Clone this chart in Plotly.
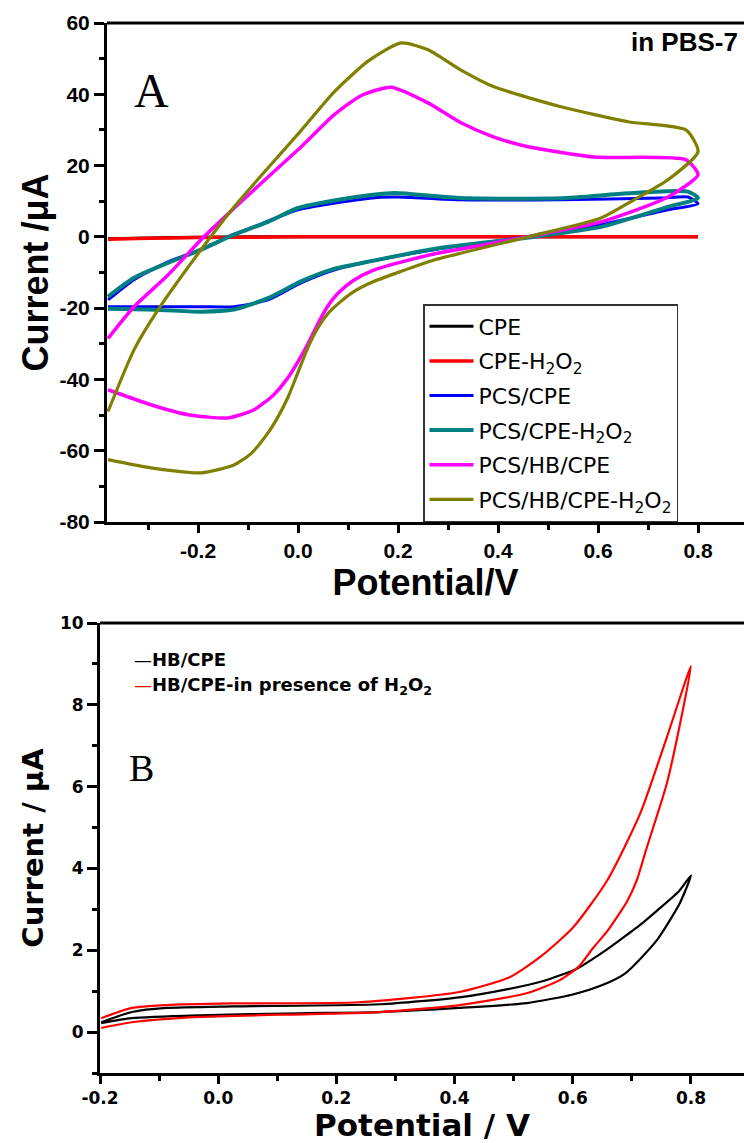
import plotly.graph_objects as go

# ---------------- Panel A data: potential (V) / current (uA); anodic sweep then cathodic sweep
A_NAMES = ["CPE", "CPE-H<sub>2</sub>O<sub>2</sub>", "PCS/CPE", "PCS/CPE-H<sub>2</sub>O<sub>2</sub>",
           "PCS/HB/CPE", "PCS/HB/CPE-H<sub>2</sub>O<sub>2</sub>"]

CPE_E = [-0.38, -0.30, -0.20, -0.10, 0.00, 0.20, 0.40, 0.60, 0.80]
CPE_I = [-0.5, -0.3, -0.1, 0.0, 0.0, 0.0, 0.0, 0.0, 0.0]

CPE_H2O2_E = [-0.38, -0.30, -0.20, -0.10, 0.00, 0.20, 0.40, 0.60, 0.80]
CPE_H2O2_I = [-0.7, -0.4, -0.2, -0.1, 0.0, 0.0, 0.0, 0.0, 0.0]

PCS_CPE_E = [-0.38, -0.328, -0.26, -0.194, -0.14, -0.094, 0.0, 0.072, 0.166, 0.20, 0.326, 0.526, 0.726, 0.78, 0.80,
             0.74, 0.606, 0.46, 0.272, 0.14, 0.072, 0.006, -0.06, -0.128, -0.194, -0.30, -0.38]
PCS_CPE_I = [-17.7, -12.0, -7.0, -3.6, 0.0, 2.5, 7.6, 9.4, 11.1, 11.2, 10.4, 10.4, 10.9, 11.2, 9.3,
             7.6, 3.4, 0.0, -3.6, -7.0, -9.3, -12.9, -17.7, -19.6, -19.6, -19.6, -19.6]

PCS_CPE_H2O2_E = [-0.38, -0.328, -0.26, -0.194, -0.128, -0.06, 0.0, 0.072, 0.15, 0.193, 0.326, 0.526, 0.66, 0.78, 0.80,
                  0.74, 0.606, 0.46, 0.272, 0.14, 0.072, 0.006, -0.06, -0.128, -0.194, -0.30, -0.38]
PCS_CPE_H2O2_I = [-16.8, -11.5, -7.3, -3.6, 0.6, 4.2, 8.1, 10.2, 11.8, 12.3, 10.9, 10.8, 12.2, 12.7, 10.9,
                  8.4, 2.8, -0.2, -3.4, -7.0, -9.0, -12.5, -17.2, -20.4, -21.0, -20.4, -20.2]

PCS_HB_CPE_E = [-0.38, -0.328, -0.26, -0.194, -0.128, -0.06, 0.006, 0.072, 0.126, 0.186, 0.26, 0.326, 0.392, 0.46,
                0.592, 0.776, 0.80,
                0.74, 0.606, 0.446, 0.272, 0.20, 0.15, 0.11, 0.08, 0.06, 0.04, 0.02, 0.0, -0.02, -0.05,
                -0.088, -0.14, -0.22, -0.294, -0.38]
PCS_HB_CPE_I = [-28.5, -19.6, -10.7, -0.8, 8.0, 16.8, 25.2, 34.2, 39.6, 42.0, 37.6, 32.0, 28.0, 25.3,
                22.4, 21.6, 17.4,
                11.2, 4.2, -0.3, -4.8, -7.3, -9.4, -12.3, -15.8, -19.3, -24.3, -30.0, -35.0, -39.5, -44.5,
                -48.5, -50.8, -49.9, -47.1, -42.9]

PCS_HB_CPE_H2O2_E = [-0.38, -0.328, -0.28, -0.194, -0.128, -0.028, 0.006, 0.072, 0.14, 0.206, 0.26, 0.326, 0.392,
                     0.526, 0.66, 0.776, 0.80,
                     0.74, 0.672, 0.606, 0.46, 0.272, 0.20, 0.15, 0.11, 0.08, 0.06, 0.04, 0.02, 0.0, -0.02,
                     -0.04, -0.06, -0.094, -0.128, -0.194, -0.294, -0.38]
PCS_HB_CPE_H2O2_I = [-49.0, -31.7, -20.5, -3.6, 8.4, 24.4, 29.8, 40.6, 49.3, 54.4, 52.5, 46.8, 42.1,
                     36.5, 32.3, 30.0, 23.9,
                     16.0, 10.4, 5.3, 0.0, -6.5, -10.0, -12.6, -15.5, -18.8, -21.5, -25.5, -31.0, -38.0, -45.0,
                     -50.5, -55.0, -60.8, -64.0, -66.2, -64.8, -62.5]

A_COLORS = ["#000000", "#ff0000", "#0000ff", "#008080", "#ff00ff", "#808000"]
A_WIDTHS = [3, 3.5, 3, 4, 3.5, 3.2]

# ---------------- Panel B data
B_NAMES = ["HB/CPE", "HB/CPE-in presence of H<sub>2</sub>O<sub>2</sub>"]
HB_CPE_E = [-0.198, -0.146, -0.032, 0.137, 0.273, 0.408, 0.522, 0.60, 0.65, 0.69, 0.742, 0.781, 0.80,
            0.78, 0.745, 0.714, 0.692, 0.658, 0.607, 0.55, 0.49, 0.408, 0.273, 0.024, -0.088, -0.146, -0.198]
HB_CPE_I = [0.22, 0.34, 0.41, 0.46, 0.49, 0.59, 0.71, 0.92, 1.15, 1.45, 2.24, 3.15, 3.83,
            3.45, 3.0, 2.62, 2.38, 2.02, 1.55, 1.25, 1.05, 0.85, 0.68, 0.63, 0.59, 0.49, 0.24]

HB_CPE_H2O2_E = [-0.198, -0.146, -0.032, 0.273, 0.408, 0.522, 0.578, 0.61, 0.634, 0.66, 0.692, 0.708, 0.725,
                 0.759, 0.781, 0.80,
                 0.759, 0.714, 0.658, 0.60, 0.546, 0.493, 0.408, 0.239, 0.024, -0.088, -0.146, -0.198]
HB_CPE_H2O2_I = [0.10, 0.24, 0.37, 0.49, 0.66, 0.95, 1.27, 1.60, 2.05, 2.50, 3.20, 3.70, 4.50,
                 6.07, 7.50, 8.95,
                 7.20, 5.34, 3.70, 2.55, 1.85, 1.34, 0.98, 0.73, 0.70, 0.66, 0.59, 0.34]
B_COLORS = ["#000000", "#ff0000"]

# ---------------- ticks
A_XTICKS = [-0.2, 0.0, 0.2, 0.4, 0.6, 0.8]
A_XTICKTEXT = ["-0.2", "0.0", "0.2", "0.4", "0.6", "0.8"]
A_YTICKS = [-80, -60, -40, -20, 0, 20, 40, 60]
A_YTICKTEXT = ["-80", "-60", "-40", "-20", "0", "20", "40", "60"]
B_XTICKS = [-0.2, 0.0, 0.2, 0.4, 0.6, 0.8]
B_XTICKTEXT = ["-0.2", "0.0", "0.2", "0.4", "0.6", "0.8"]
B_YTICKS = [0, 2, 4, 6, 8, 10]
B_YTICKTEXT = ["0", "2", "4", "6", "8", "10"]

W, H = 744, 1143
ARIAL = "Liberation Sans, Arial, sans-serif"
DEJAVU = "DejaVu Sans, sans-serif"
SERIF = "Liberation Serif, Times New Roman, serif"

fig = go.Figure()

a_series = [(CPE_E, CPE_I), (CPE_H2O2_E, CPE_H2O2_I), (PCS_CPE_E, PCS_CPE_I),
            (PCS_CPE_H2O2_E, PCS_CPE_H2O2_I), (PCS_HB_CPE_E, PCS_HB_CPE_I),
            (PCS_HB_CPE_H2O2_E, PCS_HB_CPE_H2O2_I)]
for (e, i), name, c, w in zip(a_series, A_NAMES, A_COLORS, A_WIDTHS):
    fig.add_trace(go.Scatter(x=e, y=i, mode="lines", name=name, legendgroup=name,
                             line=dict(color=c, width=w, shape="spline", smoothing=0.6),
                             xaxis="x", yaxis="y"))

b_series = [(HB_CPE_E, HB_CPE_I), (HB_CPE_H2O2_E, HB_CPE_H2O2_I)]
for (e, i), name, c in zip(b_series, B_NAMES, B_COLORS):
    fig.add_trace(go.Scatter(x=e, y=i, mode="lines", name=name, showlegend=False,
                             line=dict(color=c, width=2.2, shape="spline", smoothing=0.6),
                             xaxis="x2", yaxis="y2"))

def ax(**kw):
    d = dict(showline=True, linecolor="black", linewidth=3, ticks="outside", tickcolor="black",
             tickwidth=3, showgrid=False, zeroline=False, automargin=False)
    d.update(kw)
    return d

fig.update_layout(
    width=W, height=H, margin=dict(l=0, r=0, t=0, b=0, autoexpand=False),
    paper_bgcolor="white", plot_bgcolor="white",
    xaxis=ax(domain=[107 / W, 1], range=[-0.382, 0.892], anchor="y",
             tickvals=A_XTICKS, ticktext=A_XTICKTEXT, ticklen=8,
             tickfont=dict(family=ARIAL, size=21, color="black", weight="bold"),
             minor=dict(ticks="outside", dtick=0.1, tick0=0, ticklen=5, tickwidth=3, tickcolor="black"),
             title=dict(text="<b>Potential/V</b>", font=dict(family=ARIAL, size=36, color="black"),
                        standoff=6)),
    yaxis=ax(domain=[(H - 522) / H, (H - 23) / H], range=[-80, 60], anchor="x",
             tickvals=A_YTICKS, ticktext=A_YTICKTEXT, ticklen=10,
             tickfont=dict(family=ARIAL, size=21, color="black", weight="bold"),
             minor=dict(ticks="outside", dtick=10, tick0=0, ticklen=5, tickwidth=3, tickcolor="black"),
             title=dict(text="<b>Current /\u03bcA</b>", font=dict(family=ARIAL, size=36, color="black"),
                        standoff=0)),
    xaxis2=ax(domain=[100 / W, 1], range=[-0.2, 0.8897], anchor="y2",
              tickvals=B_XTICKS, ticktext=B_XTICKTEXT, ticklen=8,
              tickfont=dict(family=DEJAVU, size=17, color="black", weight="bold"),
              minor=dict(ticks="outside", dtick=0.1, tick0=0, ticklen=5, tickwidth=3, tickcolor="black"),
              title=dict(text="<b>Potential / V</b>", font=dict(family=DEJAVU, size=31, color="black"),
                         standoff=12)),
    yaxis2=ax(domain=[(H - 1073) / H, (H - 623) / H], range=[-1, 10], anchor="x2",
              tickvals=B_YTICKS, ticktext=B_YTICKTEXT, ticklen=10,
              tickfont=dict(family=DEJAVU, size=17, color="black", weight="bold"),
              minor=dict(ticks="outside", dtick=1, tick0=0, ticklen=5, tickwidth=3, tickcolor="black"),
              title=dict(text="<b>Current / \u03bcA</b>", font=dict(family=DEJAVU, size=29, color="black"),
                         standoff=8)),
    legend=dict(x=423 / W, y=1 - 304 / H, xanchor="left", yanchor="top",
                bordercolor="#333333", borderwidth=1.5, bgcolor="white",
                font=dict(family=DEJAVU, size=22, color="black"), tracegroupgap=3,
                itemwidth=44),
    showlegend=True,
)

# top frame lines
for xr, yr in [("x domain", "y domain"), ("x2 domain", "y2 domain")]:
    fig.add_shape(type="line", xref=xr, yref=yr, x0=0, x1=1, y0=1, y1=1,
                  line=dict(color="black", width=3))

# annotations
fig.add_annotation(x=-0.294, y=41, xref="x", yref="y", text="A", showarrow=False,
                   font=dict(family=SERIF, size=48, color="black"))
fig.add_annotation(x=0.884, y=54.7, xref="x", yref="y", text="<b>in PBS-7</b>", showarrow=False,
                   xanchor="right", font=dict(family=ARIAL, size=26, color="black"))
fig.add_annotation(x=-0.13, y=6.46, xref="x2", yref="y2", text="B", showarrow=False,
                   font=dict(family=SERIF, size=38, color="black"))
fig.add_annotation(x=-0.1455, y=9.12, xref="x2", yref="y2", xanchor="left", showarrow=False,
                   text="<span style='color:%s'>\u2014</span><b>%s</b>" % (B_COLORS[0], B_NAMES[0]),
                   font=dict(family=DEJAVU, size=18, color="black"))
fig.add_annotation(x=-0.1455, y=8.46, xref="x2", yref="y2", xanchor="left", showarrow=False,
                   text="<span style='color:%s'>\u2014</span><b>%s</b>" % (B_COLORS[1], B_NAMES[1]),
                   font=dict(family=DEJAVU, size=18, color="black"))

fig.write_html("out.html")
